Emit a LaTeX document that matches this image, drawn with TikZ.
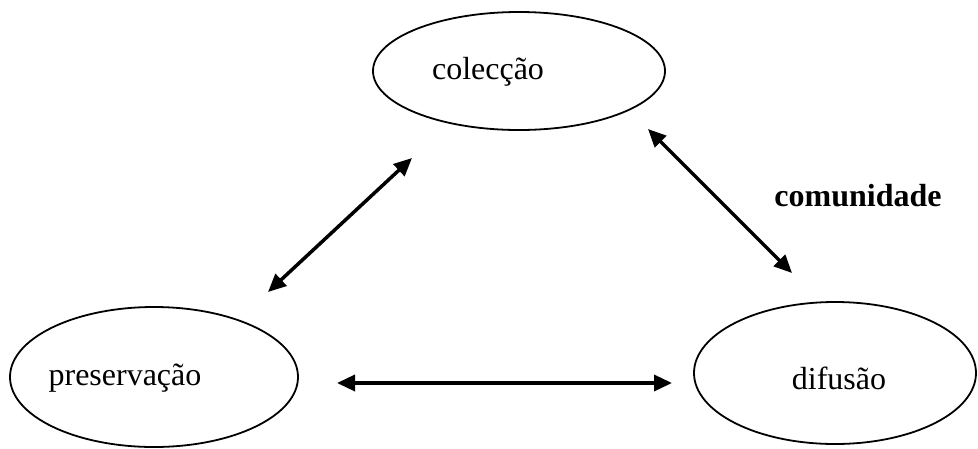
\documentclass[tikz,border=0pt]{standalone}
\usepackage{fontspec}
\setmainfont{Liberation Serif}
\usetikzlibrary{shapes.geometric,arrows.meta}
\begin{document}
\begin{tikzpicture}[x=1pt,y=-1pt,
  oval/.style={draw,ellipse,line width=1.8pt,inner sep=0pt},
  lbl/.style={font=\fontsize{32}{38}\selectfont,inner sep=0pt},
  dbl/.style={line width=3.5pt,{Triangle[length=18pt,width=16pt]}-{Triangle[length=18pt,width=16pt]}}]
\useasboundingbox (0,0) rectangle (978,448);
\node[oval,minimum width=292pt,minimum height=118pt] (col) at (519,71) {};
\node[oval,minimum width=288pt,minimum height=140pt] (pres) at (154,377) {};
\node[oval,minimum width=282pt,minimum height=142pt] (dif) at (835,373) {};
\node[lbl] (tcol) at (488,72) {colecção};
\node[lbl] (tpres) at (125,378) {preservação};
\node[lbl] (tdif) at (839,378) {difusão};
\node[lbl,font=\fontsize{32}{38}\selectfont\bfseries] (tcom) at (858,196) {comunidade};
\coordinate (a1) at (268,292);
\coordinate (a2) at (412,158);
\coordinate (b1) at (648,129);
\coordinate (b2) at (792,273);
\coordinate (c1) at (337,383);
\coordinate (c2) at (672,383);
\draw[dbl] (a1) -- (a2);
\draw[dbl] (b1) -- (b2);
\draw[dbl] (c1) -- (c2);
\end{tikzpicture}
\end{document}
